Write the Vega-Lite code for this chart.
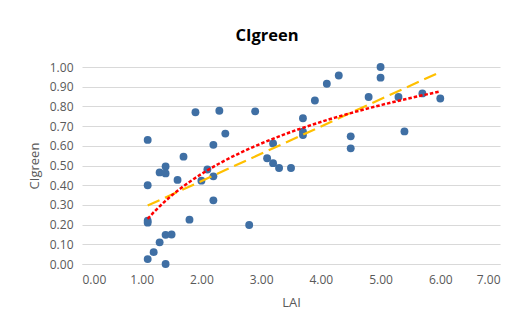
{
  "$schema": "https://vega.github.io/schema/vega-lite/v6.json",
  "autosize": "none",
  "width": 418,
  "height": 197,
  "padding": {"left": 82, "top": 67, "right": 31, "bottom": 57},
  "background": "white",
  "title": {"text": "CIgreen", "anchor": "middle", "frame": "group", "dx": -24, "offset": 17, "font": "Open Sans", "fontSize": 16.5, "fontWeight": "bold", "color": "#000000"},
  "config": {
    "view": {"stroke": null},
    "font": "Open Sans"
  },
  "data": {"values": [
    {"LAI": 1.1, "CIgreen": 0.63},
    {"LAI": 1.1, "CIgreen": 0.40},
    {"LAI": 1.1, "CIgreen": 0.22},
    {"LAI": 1.1, "CIgreen": 0.21},
    {"LAI": 1.1, "CIgreen": 0.025},
    {"LAI": 1.2, "CIgreen": 0.06},
    {"LAI": 1.3, "CIgreen": 0.11},
    {"LAI": 1.3, "CIgreen": 0.465},
    {"LAI": 1.4, "CIgreen": 0.495},
    {"LAI": 1.4, "CIgreen": 0.46},
    {"LAI": 1.4, "CIgreen": 0.148},
    {"LAI": 1.5, "CIgreen": 0.15},
    {"LAI": 1.4, "CIgreen": 0.0},
    {"LAI": 1.6, "CIgreen": 0.427},
    {"LAI": 1.7, "CIgreen": 0.545},
    {"LAI": 1.8, "CIgreen": 0.225},
    {"LAI": 1.9, "CIgreen": 0.77},
    {"LAI": 2.0, "CIgreen": 0.423},
    {"LAI": 2.1, "CIgreen": 0.48},
    {"LAI": 2.2, "CIgreen": 0.605},
    {"LAI": 2.2, "CIgreen": 0.445},
    {"LAI": 2.2, "CIgreen": 0.323},
    {"LAI": 2.3, "CIgreen": 0.778},
    {"LAI": 2.4, "CIgreen": 0.662},
    {"LAI": 2.8, "CIgreen": 0.198},
    {"LAI": 2.9, "CIgreen": 0.775},
    {"LAI": 3.1, "CIgreen": 0.537},
    {"LAI": 3.2, "CIgreen": 0.612},
    {"LAI": 3.2, "CIgreen": 0.512},
    {"LAI": 3.3, "CIgreen": 0.487},
    {"LAI": 3.5, "CIgreen": 0.487},
    {"LAI": 3.7, "CIgreen": 0.74},
    {"LAI": 3.7, "CIgreen": 0.672},
    {"LAI": 3.7, "CIgreen": 0.655},
    {"LAI": 3.9, "CIgreen": 0.83},
    {"LAI": 4.1, "CIgreen": 0.915},
    {"LAI": 4.3, "CIgreen": 0.957},
    {"LAI": 4.5, "CIgreen": 0.648},
    {"LAI": 4.5, "CIgreen": 0.587},
    {"LAI": 4.8, "CIgreen": 0.848},
    {"LAI": 5.0, "CIgreen": 1.0},
    {"LAI": 5.0, "CIgreen": 0.946},
    {"LAI": 5.3, "CIgreen": 0.848},
    {"LAI": 5.4, "CIgreen": 0.673},
    {"LAI": 5.7, "CIgreen": 0.866},
    {"LAI": 6.0, "CIgreen": 0.84}
  ]},
  "encoding": {
    "x": {"field": "LAI", "type": "quantitative",
      "scale": {"domain": [0, 7], "nice": false, "zero": false},
      "axis": {"title": "LAI", "values": [0,1,2,3,4,5,6,7], "format": ".2f", "grid": false, "ticks": false,
        "domainColor": "#D9D9D9", "domainWidth": 1.2, "labelColor": "#595959", "labelFontSize": 12, "labelPadding": 10,
        "titleColor": "#595959", "titleFontSize": 13, "titleFontWeight": "normal", "titlePadding": 11}},
    "y": {"field": "CIgreen", "type": "quantitative",
      "scale": {"domain": [0, 1], "nice": false},
      "axis": {"title": "CIgreen", "values": [0,0.1,0.2,0.3,0.4,0.5,0.6,0.7,0.8,0.9,1.0], "format": ".2f", "grid": true, "gridColor": "#D9D9D9", "gridWidth": 1,
        "ticks": false, "domain": false, "labelColor": "#595959", "labelFontSize": 12, "labelPadding": 9,
        "titleColor": "#595959", "titleFontSize": 13, "titleFontWeight": "normal", "titlePadding": 8}}
  },
  "layer": [
    {"mark": {"type": "circle", "size": 62, "color": "#3F6FA4", "opacity": 1}},
    {"transform": [{"regression": "CIgreen", "on": "LAI", "method": "linear"}],
     "mark": {"type": "line", "color": "#FFC000", "strokeWidth": 2.2, "strokeDash": [13, 6]}},
    {"transform": [{"regression": "CIgreen", "on": "LAI", "method": "log"}],
     "mark": {"type": "line", "color": "#FF0000", "strokeWidth": 2.5, "strokeDash": [3.5, 2]}}
  ]
}
